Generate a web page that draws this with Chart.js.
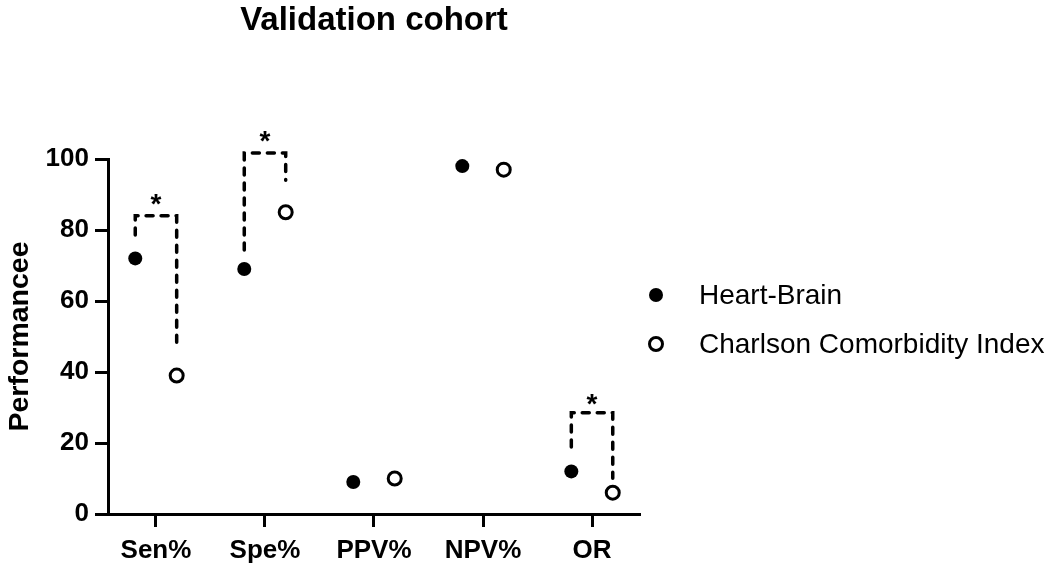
<!DOCTYPE html>
<html>
<head>
<meta charset="utf-8">
<script src="https://cdn.jsdelivr.net/npm/chart.js@4"></script>
<style>
  body { margin: 0; background: #fff; }
  #wrap { position: relative; width: 1050px; height: 571px; }
  #legend { position: absolute; left: 648px; top: 270px; font-family: "Liberation Sans", Arial, sans-serif; font-size: 28px; color: #000; }
  .row { display: flex; align-items: center; height: 49px; }
  .mk { width: 16px; height: 16px; display: flex; align-items: center; justify-content: center; margin-right: 35px; }
  .mk span { display: block; border-radius: 50%; box-sizing: border-box; }
</style>
</head>
<body>
<div id="wrap">
  <canvas id="chart" width="1050" height="571"></canvas>
  <div id="legend"></div>
</div>
<script>
const categories = ["Sen%", "Spe%", "PPV%", "NPV%", "OR"];
const heartBrain = [72, 69, 9, 98, 12];
const charlson = [39, 85, 10, 97, 6];
const yTicks = [0, 20, 40, 60, 80, 100];
const offset = 0.19; // dodge of each group inside its category

// significance brackets
const bracketCat = [0, 1, 4];
const bracketLeft = [78.6, 74.4, 18.9];
const bracketTop = [84, 101.7, 28.5];
const bracketRight = [47, 94, 10.1];
const starY = [88.3, 106, 32];

Chart.defaults.font.family = "'Liberation Sans', Arial, sans-serif";
Chart.defaults.color = "#000";

const bracketSets = bracketCat.map((c, i) => ({
    type: "line",
    label: "bracket",
    data: [
        { x: c - offset, y: bracketLeft[i] },
        { x: c - offset, y: bracketTop[i] },
        { x: c + offset, y: bracketTop[i] },
        { x: c + offset, y: bracketRight[i] }
    ],
    borderColor: "#000",
    borderWidth: 3.5,
    borderDash: [7, 8],
    borderCapStyle: "round",
    borderJoinStyle: "miter",
    pointRadius: 0,
    fill: false,
    tension: 0,
    clip: false,
    inLegend: false
}));

const starPlugin = {
    id: "stars",
    afterDatasetsDraw(chart) {
        const { ctx, scales: { x, y } } = chart;
        const size = 28;
        ctx.save();
        ctx.font = "bold " + size + "px 'Liberation Sans', Arial";
        ctx.textAlign = "center";
        ctx.textBaseline = "alphabetic";
        ctx.fillStyle = "#000";
        bracketCat.forEach((c, i) => {
            ctx.fillText("*", x.getPixelForValue(c), y.getPixelForValue(starY[i]) + size * 0.45);
        });
        ctx.restore();
    }
};

const axisGrid = { drawOnChartArea: false, drawTicks: true, tickLength: 13, tickWidth: 3, tickColor: "#000" };
const axisBorder = { color: "#000", width: 3 };

const chart = new Chart(document.getElementById("chart"), {
    type: "scatter",
    data: {
        datasets: [
            {
                label: "Heart-Brain",
                data: heartBrain.map((v, i) => ({ x: i - offset, y: v })),
                backgroundColor: "#000",
                borderColor: "#000",
                borderWidth: 0,
                pointRadius: 7,
                pointHoverRadius: 7
            },
            {
                label: "Charlson Comorbidity Index",
                data: charlson.map((v, i) => ({ x: i + offset, y: v })),
                backgroundColor: "#fff",
                borderColor: "#000",
                borderWidth: 3,
                pointRadius: 6.5,
                pointHoverRadius: 6.5
            },
            ...bracketSets
        ]
    },
    options: {
        responsive: false,
        animation: false,
        events: [],
        layout: { padding: { left: 0, right: 410, top: 0, bottom: 0 } },
        plugins: {
            legend: { display: false },
            tooltip: { enabled: false },
            title: {
                display: true,
                fullSize: false,
                text: "Validation cohort",
                font: { size: 33, weight: "bold" },
                color: "#000",
                padding: { top: 1, bottom: 118.4 }
            }
        },
        scales: {
            x: {
                type: "linear",
                min: -0.44,
                max: 4.44,
                afterBuildTicks: s => { s.ticks = categories.map((c, i) => ({ value: i })); },
                ticks: {
                    callback: v => categories[Math.round(v)],
                    font: { size: 26, weight: "bold" },
                    color: "#000",
                    padding: 8,
                    autoSkip: false,
                    maxRotation: 0
                },
                grid: axisGrid,
                border: axisBorder,
                afterFit: s => { s.height = 57; }
            },
            y: {
                min: 0,
                max: 100,
                afterBuildTicks: s => { s.ticks = yTicks.map(v => ({ value: v })); },
                ticks: { font: { size: 26, weight: "bold" }, color: "#000", padding: 6 },
                grid: axisGrid,
                border: axisBorder,
                title: {
                    display: true,
                    text: "Performancee",
                    font: { size: 28.5, weight: "bold" },
                    color: "#000",
                    padding: { top: 3, bottom: 0 }
                },
                afterFit: s => { s.width = 108; }
            }
        }
    },
    plugins: [starPlugin]
});

// html legend built from the point datasets
const legendEl = document.getElementById("legend");
chart.data.datasets.filter(d => d.inLegend !== false).forEach(d => {
    const row = document.createElement("div");
    row.className = "row";
    const mk = document.createElement("div");
    mk.className = "mk";
    const dot = document.createElement("span");
    const size = d.pointRadius * 2 + d.borderWidth;
    dot.style.width = size + "px";
    dot.style.height = size + "px";
    dot.style.background = d.backgroundColor;
    dot.style.border = d.borderWidth + "px solid " + d.borderColor;
    mk.appendChild(dot);
    const txt = document.createElement("div");
    txt.textContent = d.label;
    row.appendChild(mk);
    row.appendChild(txt);
    legendEl.appendChild(row);
});
</script>
</body>
</html>
